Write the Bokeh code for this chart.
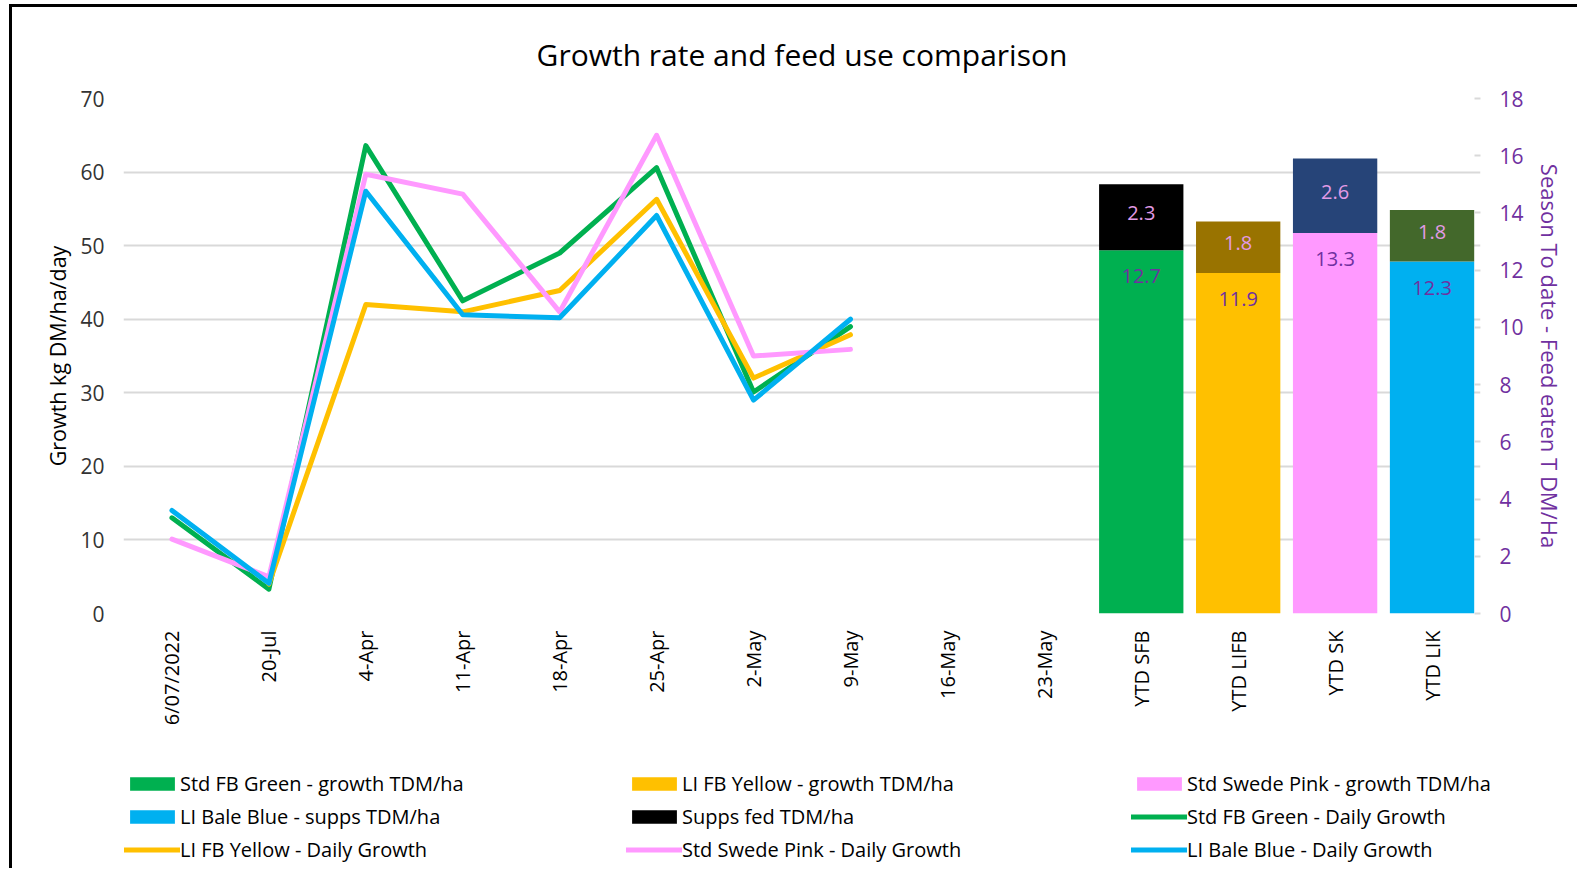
import math
from bokeh.plotting import figure
from bokeh.layouts import column
from bokeh.models import (FactorRange, Range1d, LinearAxis, FixedTicker, Legend,
                          LegendItem, ColumnDataSource)
from bokeh.core.properties import value
from bokeh.embed import file_html
from bokeh.resources import INLINE

nan = float("nan")

# ---------------- data ----------------
categories = ["6/07/2022", "20-Jul", "4-Apr", "11-Apr", "18-Apr", "25-Apr", "2-May",
              "9-May", "16-May", "23-May", "YTD SFB", "YTD LIFB", "YTD SK", "YTD LIK"]
date_cats = ["6/07/2022", "20-Jul", "4-Apr", "11-Apr", "18-Apr", "25-Apr", "2-May", "9-May"]
green_daily = [13.0, 3.3, 63.6, 42.5, 49.0, 60.6, 30.1, 39.0]
yellow_daily = [nan, 4.0, 42.0, 41.0, 43.9, 56.3, 32.0, 37.9]
pink_daily = [10.1, 5.0, 59.7, 57.0, 41.0, 65.0, 35.0, 35.9]
blue_daily = [14.0, 4.1, 57.4, 40.6, 40.2, 54.1, 29.0, 40.0]

ytd_cats = ["YTD SFB", "YTD LIFB", "YTD SK", "YTD LIK"]
growth_tdm = [12.7, 11.9, 13.3, 12.3]
supps_tdm = [2.3, 1.8, 2.6, 1.8]

bar_names = ["Std FB Green - growth TDM/ha", "LI FB Yellow - growth TDM/ha",
             "Std Swede Pink - growth TDM/ha", "LI Bale Blue - supps TDM/ha"]
supps_name = "Supps fed TDM/ha"
line_names = ["Std FB Green - Daily Growth", "LI FB Yellow - Daily Growth",
              "Std Swede Pink - Daily Growth", "LI Bale Blue - Daily Growth"]

left_ticks = [0, 10, 20, 30, 40, 50, 60, 70]
right_ticks = [0, 2, 4, 6, 8, 10, 12, 14, 16, 18]

# ---------------- style ----------------
GREEN, YELLOW, PINK, BLUE = "#00B050", "#FFC000", "#FF99FF", "#00B0F0"
bottom_colors = [GREEN, YELLOW, PINK, BLUE]
top_colors = ["#000000", "#997300", "#264478", "#43682B"]
supps_legend_color = "#000000"
PURPLE = "#7030A0"
TOPLBL = "#E29BE6"
FONT = "Open Sans"

W = 1565
p = figure(x_range=FactorRange(*categories, range_padding=0),
           y_range=Range1d(0, 70), width=W, height=751,
           output_backend="svg", toolbar_location=None,
           min_border_left=111, min_border_right=97, min_border_top=91,
           min_border_bottom=145)
p.extra_y_ranges = {"right": Range1d(0, 18)}
p.outline_line_color = None

p.title.text = "Growth rate and feed use comparison"
p.title.align = "center"
p.title.vertical_align = "middle"
p.title.text_font = FONT
p.title.text_font_size = "30px"
p.title.text_font_style = "normal"
p.title.text_color = "#000000"
p.title.standoff = 45

# grid
p.xgrid.grid_line_color = None
p.ygrid.grid_line_color = "#D9D9D9"
p.ygrid.grid_line_width = 2
p.ygrid.ticker = FixedTicker(ticks=left_ticks)

# left axis
ya = p.yaxis[0]
ya.ticker = FixedTicker(ticks=left_ticks)
ya.axis_line_color = None
ya.major_tick_line_color = None
ya.minor_tick_line_color = None
ya.major_label_text_font = FONT
ya.major_label_text_font_size = "21px"
ya.major_label_text_color = "#333333"
ya.major_label_standoff = 13
ya.axis_label = "Growth kg DM/ha/day"
ya.axis_label_text_font = FONT
ya.axis_label_text_font_size = "21.5px"
ya.axis_label_text_font_style = "normal"
ya.axis_label_text_color = "#000000"
ya.axis_label_standoff = 5

# x axis
xa = p.xaxis[0]
xa.axis_line_color = None
xa.major_tick_line_color = None
xa.minor_tick_line_color = None
xa.major_label_orientation = math.pi / 2
xa.major_label_text_font = FONT
xa.major_label_text_font_size = "20px"
xa.major_label_text_color = "#000000"
xa.major_label_standoff = 11

# right axis
ra = LinearAxis(y_range_name="right", ticker=FixedTicker(ticks=right_ticks))
ra.axis_line_color = None
ra.major_tick_line_color = "#D9D9D9"
ra.major_tick_line_width = 2
ra.major_tick_in = 6
ra.major_tick_out = 0
ra.minor_tick_line_color = None
ra.major_label_text_font = FONT
ra.major_label_text_font_size = "21px"
ra.major_label_text_color = PURPLE
ra.major_label_standoff = 19
ra.axis_label = "Season To date - Feed eaten T DM/Ha"
ra.axis_label_text_font = FONT
ra.axis_label_text_font_size = "22px"
ra.axis_label_text_font_style = "normal"
ra.axis_label_text_color = PURPLE
ra.axis_label_standoff = 8
p.add_layout(ra, "right")

BAR_W = 0.87

# bottom bars (one series per bar)
for cat, val, col in zip(ytd_cats, growth_tdm, bottom_colors):
    src = ColumnDataSource(dict(x=[cat], top=[val]))
    p.vbar(x="x", top="top", bottom=0, width=BAR_W, source=src,
           fill_color=col, line_color=None, y_range_name="right")

# supps stacked on top
supp_src = ColumnDataSource(dict(
    x=ytd_cats,
    bottom=growth_tdm,
    top=[g + s for g, s in zip(growth_tdm, supps_tdm)],
    color=top_colors,
))
p.vbar(x="x", bottom="bottom", top="top", width=BAR_W, source=supp_src,
       fill_color="color", line_color=None, y_range_name="right")

# data labels
p.text(x=ytd_cats, y=growth_tdm, text=[f"{v:.1f}" for v in growth_tdm],
       y_range_name="right", text_align="center", text_baseline="middle",
       y_offset=26, text_color=PURPLE, text_font=value(FONT), text_font_size="20px")
p.text(x=ytd_cats, y=[g + s / 2 for g, s in zip(growth_tdm, supps_tdm)],
       text=[f"{v:.1f}" for v in supps_tdm],
       y_range_name="right", text_align="center", text_baseline="middle",
       y_offset=-4, text_color=TOPLBL, text_font=value(FONT), text_font_size="20px")

# lines
line_colors = [GREEN, YELLOW, PINK, BLUE]
for ys, col in zip([green_daily, yellow_daily, pink_daily, blue_daily], line_colors):
    p.line(x=date_cats, y=ys, line_color=col, line_width=5,
           line_join="round", line_cap="round")

# ---------------- legend strip (three columns, row-major order) ----------------
lg_fig = figure(width=W, height=110, output_backend="svg", toolbar_location=None,
                x_axis_location=None, y_axis_location=None,
                x_range=Range1d(0, 1), y_range=Range1d(0, 1),
                min_border=0)
lg_fig.outline_line_color = None
lg_fig.grid.grid_line_color = None

# legend-only renderers (placed outside the visible range, only their legend swatch shows)
leg_renderers = []
for col in bottom_colors + [supps_legend_color]:
    leg_renderers.append(lg_fig.vbar(x=[5], top=[1], width=0.1, fill_color=col,
                                     line_color=None))
for col in line_colors:
    leg_renderers.append(lg_fig.line(x=[5, 6], y=[5, 5], line_color=col, line_width=5,
                                     line_cap="round"))
names = bar_names + [supps_name] + line_names
items = [LegendItem(label=n, renderers=[r]) for n, r in zip(names, leg_renderers)]

col_x = [112, 614, 1119]
for c in range(3):
    lg = Legend(items=items[c::3], orientation="vertical", location=(col_x[c], 5),
                glyph_width=56, glyph_height=17, label_standoff=0, spacing=6,
                label_height=22,
                label_text_font=FONT, label_text_font_size="20px",
                label_text_color="#000000",
                border_line_color=None, background_fill_alpha=0,
                padding=0, margin=0)
    lg_fig.add_layout(lg, "center")

chart_root = column(p, spacing=0,
                    styles={"border-left": "3px solid #000", "border-top": "3px solid #000",
                            "margin-left": "9px", "margin-top": "4px"})
legend_root = column(lg_fig, spacing=0,
                     styles={"border-left": "3px solid #000", "margin-left": "9px"})

open("out.html", "w").write(file_html([chart_root, legend_root], INLINE))
